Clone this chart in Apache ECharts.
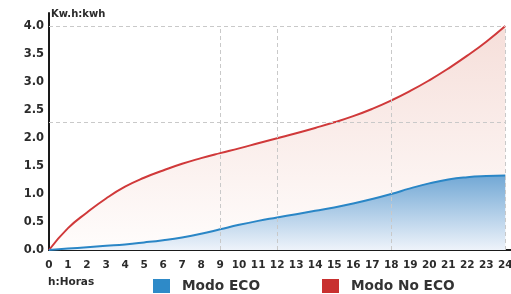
<!DOCTYPE html>
<html>
<head>
<meta charset="utf-8">
<script src="https://cdn.jsdelivr.net/npm/echarts@6/dist/echarts.min.js"></script>
<style>
  html, body { margin: 0; padding: 0; background: #fff; }
  #chart { width: 511px; height: 294px; }
</style>
</head>
<body>
<div id="chart"></div>
<script>
// hours on the x axis (tick labels 0..24)
const hours = [0, 1, 2, 3, 4, 5, 6, 7, 8, 9, 10, 11, 12, 13, 14, 15, 16, 17, 18, 19, 20, 21, 22, 23, 24];
// kWh accumulated
const modoEco = [0, 0.025, 0.05, 0.075, 0.10, 0.135, 0.175, 0.225, 0.29, 0.37, 0.45, 0.52, 0.58, 0.64, 0.70, 0.76, 0.83, 0.91, 1.00, 1.10, 1.19, 1.26, 1.30, 1.32, 1.33];
const modoNoEco = [0, 0.39, 0.67, 0.92, 1.13, 1.29, 1.42, 1.54, 1.64, 1.73, 1.815, 1.905, 1.995, 2.085, 2.18, 2.28, 2.39, 2.52, 2.67, 2.84, 3.03, 3.24, 3.47, 3.72, 4.0];
// dashed guide lines
const guideHours = [9, 12, 18, 24];
const guideValues = [4.0, 2.28];

const font = 'DejaVu Sans';
const toPairs = (vals) => hours.map((h, i) => [h, vals[i]]);

const guides = [];
guideHours.forEach(h => guides.push([{ coord: [h, 0] }, { coord: [h, 4] }]));
guideValues.forEach(v => guides.push([{ coord: [0, v] }, { coord: [24, v] }]));

const chart = echarts.init(document.getElementById('chart'));
chart.setOption({
  animation: false,
  title: [
    { text: 'Kw.h:kwh', left: 51, top: 9, padding: 0,
      textStyle: { fontFamily: font, fontSize: 10, fontWeight: 'bold', color: '#2b2b2b' } },
    { text: 'h:Horas', left: 48, top: 277, padding: 0,
      textStyle: { fontFamily: font, fontSize: 10.5, fontWeight: 'bold', color: '#2b2b2b' } }
  ],
  legend: [
    { left: 153, top: 279, padding: 0, icon: 'rect', itemWidth: 17, itemHeight: 14,
      data: [{ name: 'Modo ECO', itemStyle: { color: '#2e8ac8' } }],
      textStyle: { fontFamily: font, fontSize: 13.7, fontWeight: 'bold', color: '#333', padding: [0, 0, 0, 7] } },
    { left: 322, top: 279, padding: 0, icon: 'rect', itemWidth: 17, itemHeight: 14,
      data: [{ name: 'Modo No ECO', itemStyle: { color: '#c8302f' } }],
      textStyle: { fontFamily: font, fontSize: 13.7, fontWeight: 'bold', color: '#333', padding: [0, 0, 0, 7] } }
  ],
  grid: { left: 49, right: 0, top: 13, bottom: 44, outerBoundsMode: 'none' },
  xAxis: {
    type: 'value',
    min: 0,
    max: 24.3,
    interval: 1,
    axisLine: { show: true, lineStyle: { color: '#1a1a1a', width: 2 } },
    axisTick: { show: false },
    splitLine: { show: false },
    axisLabel: {
      margin: 10,
      fontFamily: font, fontSize: 10.5, fontWeight: 'bold', color: '#2b2b2b',
      formatter: v => Number.isInteger(v) ? String(v) : ''
    }
  },
  yAxis: {
    type: 'value',
    min: 0,
    max: 4.232,
    interval: 0.5,
    axisLine: { show: true, lineStyle: { color: '#1a1a1a', width: 2 } },
    axisTick: { show: false },
    splitLine: { show: false },
    axisLabel: {
      margin: 5,
      fontFamily: font, fontSize: 11.5, fontWeight: 'bold', color: '#2b2b2b',
      formatter: v => (Math.round(v * 2) === v * 2) ? v.toFixed(1) : ''
    }
  },
  series: [
    {
      name: 'Modo No ECO',
      type: 'line',
      data: toPairs(modoNoEco),
      smooth: true,
      showSymbol: false,
      itemStyle: { color: '#c8302f' },
      lineStyle: { color: '#d0393a', width: 2 },
      areaStyle: {
        color: new echarts.graphic.LinearGradient(0, 0, 0, 1, [
          { offset: 0, color: '#f1d0c9' },
          { offset: 1, color: '#fefbfa' }
        ])
      },
      markLine: {
        silent: true,
        symbol: 'none',
        label: { show: false },
        lineStyle: { color: '#c9c9c9', width: 1, type: [4, 3] },
        data: guides
      },
      z: 2
    },
    {
      name: 'Modo ECO',
      type: 'line',
      data: toPairs(modoEco),
      smooth: true,
      showSymbol: false,
      itemStyle: { color: '#2e8ac8' },
      lineStyle: { color: '#2a86c6', width: 2 },
      areaStyle: {
        opacity: 1,
        color: new echarts.graphic.LinearGradient(0, 0, 0, 1, [
          { offset: 0, color: '#72a8d5' },
          { offset: 1, color: '#eef3fa' }
        ])
      },
      z: 3
    }
  ]
});
</script>
</body>
</html>
